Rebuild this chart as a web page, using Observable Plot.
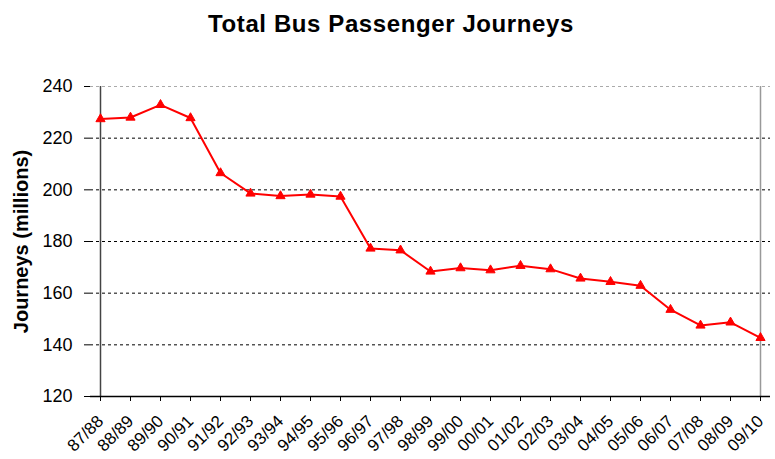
<!DOCTYPE html>
<html>
<head>
<meta charset="utf-8">
<script src="https://cdn.jsdelivr.net/npm/d3@7"></script>
<script src="https://cdn.jsdelivr.net/npm/@observablehq/plot@0.6"></script>
<style>
  html, body { margin: 0; padding: 0; background: #fff; }
  #wrap { position: relative; width: 775px; height: 459px; overflow: hidden; font-family: "Liberation Sans", Arial, sans-serif; }
  #title { height: 60px; position: relative; }
  #title span { position: absolute; left: 391px; top: 12px; transform: translateX(-50%); white-space: nowrap;
    font-size: 24px; line-height: 24px; font-weight: bold; color: #000; letter-spacing: 0.6px; }
</style>
</head>
<body>
<div id="wrap">
  <div id="title"><span></span></div>
  <div id="chart"></div>
</div>
<script>
const titleText = "Total Bus Passenger Journeys";
const yLabel = ["Journeys (millions)"];
const years = ["87/88","88/89","89/90","90/91","91/92","92/93","93/94","94/95","95/96","96/97","97/98","98/99","99/00","00/01","01/02","02/03","03/04","04/05","05/06","06/07","07/08","08/09","09/10"];
const journeys = [227.4,228.0,232.9,227.8,206.5,198.6,197.6,198.2,197.4,177.3,176.6,168.4,169.7,168.9,170.6,169.3,165.7,164.4,162.9,153.6,147.5,148.7,142.7];
const yTicks = [120,140,160,180,200,220,240];
const gridDark = [140,160,180,200,220];
const gridTop = [240];

document.querySelector("#title span").textContent = titleText;

const data = years.map((y, i) => ({year: y, value: journeys[i]}));
const font = "'Liberation Sans', Arial, sans-serif";

const chart = Plot.plot({
  width: 775,
  height: 399,
  marginTop: 26,
  marginBottom: 63,
  marginLeft: 90,
  marginRight: 5,
  style: {fontFamily: font, background: "#fff", color: "#000", overflow: "visible"},
  x: {type: "point", domain: years, padding: 0},
  y: {domain: [120, 240], nice: false},
  marks: [
    Plot.ruleY(gridDark, {stroke: "#000", strokeWidth: 1, strokeDasharray: "3,3"}),
    Plot.ruleY(gridTop, {stroke: "#aaa", strokeWidth: 1, strokeDasharray: "3,3"}),
    Plot.ruleX([years[years.length - 1]], {stroke: "#999", strokeWidth: 1.5}),
    Plot.ruleX([years[0]], {stroke: "#444", strokeWidth: 1.5}),
    Plot.ruleY([120], {stroke: "#000", strokeWidth: 1.5}),
    Plot.axisY({ticks: yTicks, tickSize: 6, tickPadding: 12, fontSize: 18, label: null, tickFormat: d => String(d), stroke: "#000"}),
    Plot.axisX({tickRotate: -45, tickSize: 5, tickPadding: 17, fontSize: 17, label: null, stroke: "#000"}),
    Plot.line(data, {x: "year", y: "value", stroke: "#ff0000", strokeWidth: 2}),
    Plot.dot(data, {x: "year", y: "value", symbol: "triangle", r: 3.4, fill: "#ff0000", stroke: "#ff0000", strokeWidth: 1}),
    Plot.text(yLabel, {frameAnchor: "left", rotate: -90, dx: -69, fontSize: 20, fontWeight: "bold", fill: "#000", textAnchor: "middle", lineAnchor: "middle", letterSpacing: 1})
  ]
});
document.getElementById("chart").appendChild(chart);
</script>
</body>
</html>
